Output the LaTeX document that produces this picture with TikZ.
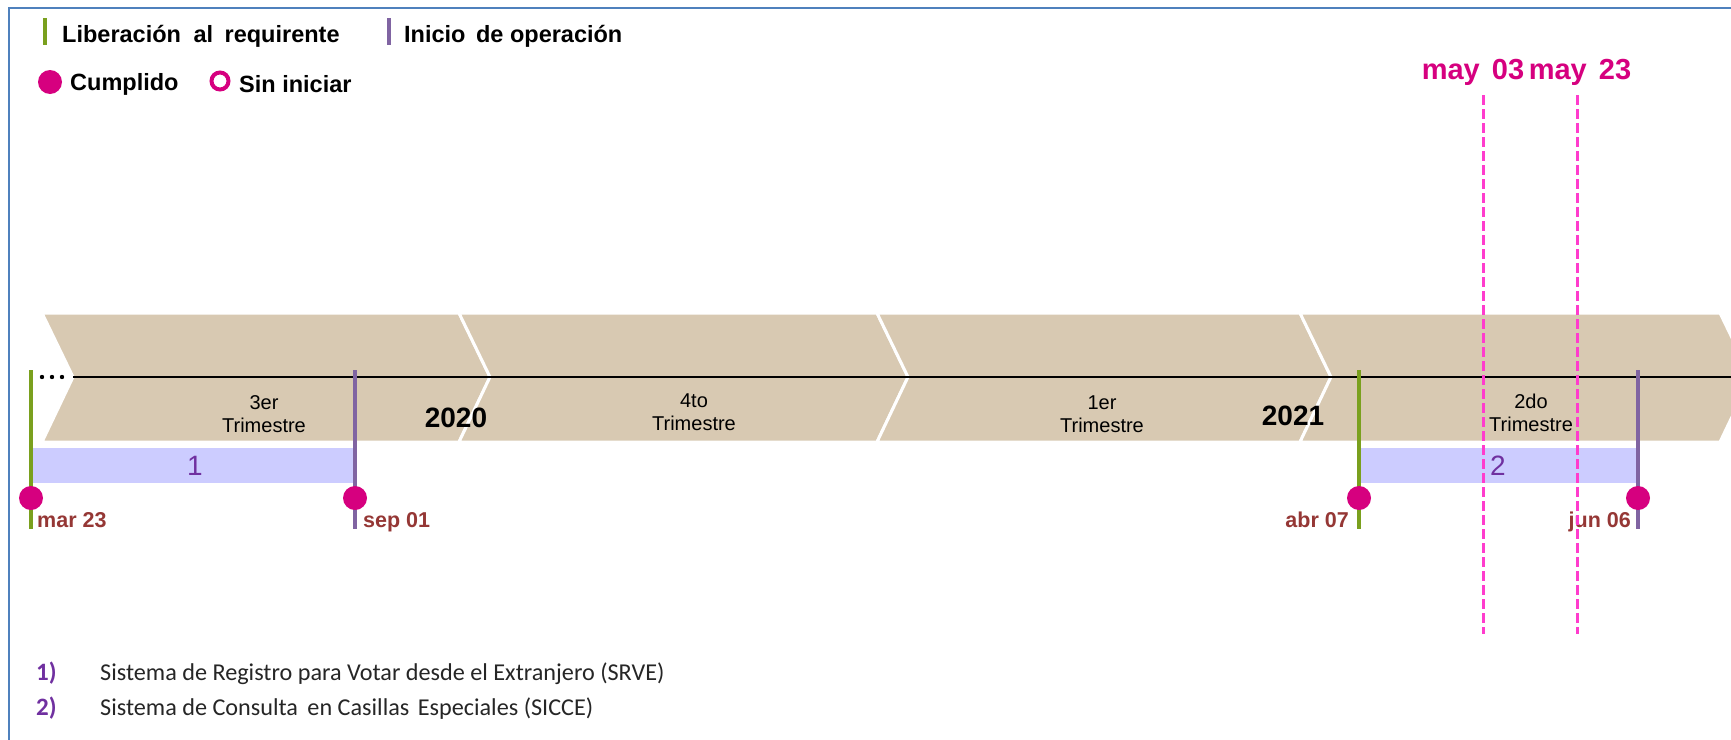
\documentclass[tikz,border=0pt]{standalone}
\usepackage{fontspec}
\setmainfont{Liberation Sans}
\newfontfamily\calibri{Carlito}
\usetikzlibrary{positioning}

\definecolor{beige}{RGB}{216,201,178}
\definecolor{libgreen}{RGB}{122,160,30}
\definecolor{oppurple}{RGB}{128,100,162}
\definecolor{dotmag}{RGB}{214,0,127}
\definecolor{bandblue}{RGB}{204,204,255}
\definecolor{numpurple}{RGB}{112,48,160}
\definecolor{datered}{RGB}{149,55,53}
\definecolor{pinkdash}{RGB}{255,60,205}
\definecolor{borderblue}{RGB}{79,129,189}
\definecolor{listgray}{RGB}{38,38,38}

\tikzset{
  chevron/.style={fill=beige, draw=white, line width=3pt, line join=miter},
  milestone/.style={circle, fill=dotmag, inner sep=0pt, minimum size=24pt},
  datelbl/.style={text=datered, font=\bfseries\fontsize{21.5}{24}\selectfont, inner sep=0pt},
  trimlbl/.style={font=\fontsize{20}{23}\selectfont, align=center},
  yearlbl/.style={font=\bfseries\fontsize{28}{32}\selectfont},
  libline/.style={draw=libgreen, line width=4pt},
  opline/.style={draw=oppurple, line width=4pt},
  cutline/.style={draw=pinkdash, line width=3pt, dash pattern=on 10pt off 4pt},
  legtxt/.style={font=\bfseries\fontsize{23.5}{28}\selectfont, anchor=base west, inner sep=0pt},
  listtxt/.style={font=\calibri\fontsize{24.2}{28}\selectfont, anchor=base west, inner sep=0pt, text=listgray},
  listnum/.style={font=\calibri\bfseries\fontsize{25}{28}\selectfont, anchor=base west, inner sep=0pt, text=numpurple}
}

\begin{document}
\begin{tikzpicture}[x=1pt,y=-1pt]
        \useasboundingbox (0,0) rectangle (1731,739);
        \fill[white] (0,0) rectangle (1731,739);
        \clip (0,0) rectangle (1731,739);
        \draw[borderblue, line width=2pt] (9,7.5) rectangle (1770,780);

        % Leyenda
        \draw[libline] (45,18) -- (45,45);
        \node[legtxt] (lib) at (62,42) {Liberación\hspace{6pt} al\hspace{5pt} requirente};
        \draw[opline] (389,18) -- (389,45);
        \node[legtxt] (ini) at (404,42) {Inicio\hspace{4pt} de operación};
        \node[milestone] (cum) at (50,82) {};
        \node[legtxt] at (70,90) {Cumplido};
        \draw[dotmag, line width=4pt] (220,81) circle (8.5pt);
        \node[legtxt] at (239,92) {Sin iniciar};

        % Trimestres
        \foreach \xa/\xb in {42/459, 459/877, 877/1300, 1300/1720}
            \filldraw[chevron] (\xa,313) -- (\xb,313) -- (\xb+31,377) -- (\xb,442)
                -- (\xa,442) -- (\xa+31,377) -- cycle;
        \draw[black, line width=2.2pt] (73,377) -- (1731,377);
        \foreach \x in {42,52,62} \fill (\x,377) circle (2.2pt);

        \node[trimlbl] (t3) at (264,414) {3er\\Trimestre};
        \node[trimlbl] (t4) at (694,412) {4to\\Trimestre};
        \node[trimlbl] (t1) at (1102,414) {1er\\Trimestre};
        \node[trimlbl] (t2) at (1531,413) {2do\\Trimestre};
        \node[yearlbl] (y20) at (456,418) {2020};
        \node[yearlbl] (y21) at (1293,416) {2021};

        % Sistemas
        \fill[bandblue] (31,448) rectangle (355,483);
        \fill[bandblue] (1359,448) rectangle (1638,483);
        \node[text=numpurple, font=\fontsize{28}{32}\selectfont] (s1) at (195,466) {1};
        \node[text=numpurple, font=\fontsize{28}{32}\selectfont] (s2) at (1498,466) {2};

        \draw[libline] (31,370) -- (31,529);
        \draw[opline] (355,370) -- (355,529);
        \draw[libline] (1359,370) -- (1359,529);
        \draw[opline] (1638,370) -- (1638,529);

        \node[milestone] (m1a) at (31,498) {};
        \node[milestone] (m1b) at (355,498) {};
        \node[milestone] (m2a) at (1359,498) {};
        \node[milestone] (m2b) at (1638,498) {};

        \node[datelbl, anchor=base west] at (37,527) {mar 23};
        \node[datelbl, anchor=base west] at (363,527) {sep 01};
        \node[datelbl, anchor=base east] at (1349,527) {abr 07};
        \node[datelbl, anchor=base east] at (1631,527) {jun 06};

        % Corte
        \draw[cutline] (1483,95) -- (1483,634);
        \draw[cutline] (1577,95) -- (1577,634);
        \node[text=dotmag, font=\bfseries\fontsize{29}{32}\selectfont, anchor=base] at (1473,79) {may\hspace{4pt} 03};
        \node[text=dotmag, font=\bfseries\fontsize{29}{32}\selectfont, anchor=base] at (1580,79) {may\hspace{4pt} 23};

        % Lista
        \node[listnum] at (36,680) {1)};
        \node[listtxt] (l1) at (100,680) {Sistema de Registro para Votar desde el Extranjero (SRVE)};
        \node[listnum] at (36,715) {2)};
        \node[listtxt] (l2) at (100,715) {Sistema de Consulta\hspace{4pt} en Casillas\hspace{3pt} Especiales (SICCE)};
    \end{tikzpicture}
\end{document}
